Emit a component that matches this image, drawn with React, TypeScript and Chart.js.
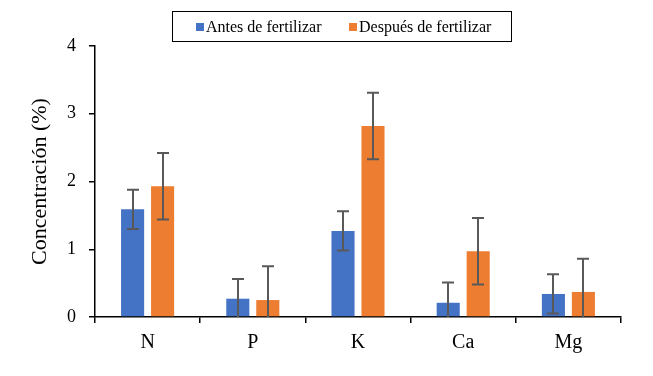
import React, { useEffect, useRef } from "react";
import { Chart, registerables } from "chart.js";

Chart.register(...registerables);

const categories = ["N", "P", "K", "Ca", "Mg"];
const seriesLabels = ["Antes de fertilizar", "Después de fertilizar"];
const antesValues = [1.59, 0.27, 1.27, 0.21, 0.34];
const antesErrors = [0.29, 0.29, 0.29, 0.3, 0.29];
const despuesValues = [1.93, 0.25, 2.82, 0.97, 0.37];
const despuesErrors = [0.49, 0.5, 0.49, 0.49, 0.49];
const yTicks = [0, 1, 2, 3, 4];

const FONT = "'Liberation Serif', 'Times New Roman', serif";

const errorBarPlugin = {
  id: "errorBars",
  afterDatasetsDraw(chart: any) {
    const ctx = chart.ctx;
    const yScale = chart.scales.y;
    const area = chart.chartArea;
    ctx.save();
    ctx.strokeStyle = "#595959";
    ctx.lineWidth = 2;
    chart.data.datasets.forEach((ds: any, di: number) => {
      const meta = chart.getDatasetMeta(di);
      meta.data.forEach((bar: any, i: number) => {
        const v = ds.data[i];
        const e = ds.errors[i];
        const yTop = yScale.getPixelForValue(v + e);
        const yBot = Math.min(yScale.getPixelForValue(v - e), area.bottom);
        const x = Math.round(bar.x);
        const cap = 6;
        ctx.beginPath();
        ctx.moveTo(x, yTop);
        ctx.lineTo(x, yBot);
        ctx.moveTo(x - cap, yTop);
        ctx.lineTo(x + cap, yTop);
        if (v - e > 0) {
          ctx.moveTo(x - cap, yBot);
          ctx.lineTo(x + cap, yBot);
        }
        ctx.stroke();
      });
    });
    ctx.restore();
  },
};

const legendPlugin = {
  id: "boxLegend",
  afterDraw(chart: any) {
    const ctx = chart.ctx;
    ctx.save();
    ctx.strokeStyle = "#000";
    ctx.lineWidth = 1;
    ctx.strokeRect(172.5, 11.5, 339, 30);
    ctx.font = `16px ${FONT}`;
    ctx.textBaseline = "alphabetic";
    ctx.textAlign = "left";
    const starts = [196, 349];
    chart.data.datasets.forEach((ds: any, di: number) => {
      const x = starts[di];
      ctx.fillStyle = ds.backgroundColor;
      ctx.fillRect(x, 23, 8, 8);
      ctx.fillStyle = "#000";
      ctx.fillText(ds.label, x + 10, 32);
    });
    ctx.restore();
  },
};

export default function App() {
  const ref = useRef<HTMLCanvasElement>(null);
  useEffect(() => {
    if (!ref.current) return;
    const chart = new Chart(ref.current, {
      type: "bar",
      data: {
        labels: categories,
        datasets: [
          {
            label: seriesLabels[0],
            data: antesValues,
            errors: antesErrors,
            backgroundColor: "#4472C4",
            categoryPercentage: 0.57,
            barPercentage: 0.77,
          } as any,
          {
            label: seriesLabels[1],
            data: despuesValues,
            errors: despuesErrors,
            backgroundColor: "#ED7D31",
            categoryPercentage: 0.57,
            barPercentage: 0.77,
          } as any,
        ],
      },
      options: {
        responsive: false,
        animation: false,
        layout: { padding: { top: 46, right: 32, left: 0, bottom: 0 } },
        plugins: {
          legend: { display: false },
          tooltip: { enabled: false },
        },
        scales: {
          x: {
            grid: {
              offset: true,
              drawOnChartArea: false,
              drawTicks: true,
              tickLength: 6,
              color: "#000",
              lineWidth: 1.5,
            },
            border: { display: true, color: "#000", width: 1.5 },
            ticks: {
              color: "#000",
              font: { family: FONT, size: 20 },
              padding: 8,
            },
            afterFit(scale: any) {
              scale.height = 59;
            },
          },
          y: {
            min: 0,
            max: 4,
            afterBuildTicks(scale: any) {
              scale.ticks = yTicks.map((v) => ({ value: v }));
            },
            grid: {
              drawOnChartArea: false,
              drawTicks: true,
              tickLength: 6,
              color: "#000",
              lineWidth: 1.5,
            },
            border: { display: true, color: "#000", width: 1.5 },
            ticks: {
              color: "#000",
              font: { family: FONT, size: 18 },
              padding: 13,
            },
            title: {
              display: true,
              text: "Concentración (%)",
              color: "#000",
              font: { family: FONT, size: 22 },
              padding: { top: 27, bottom: 0 },
            },
            afterFit(scale: any) {
              scale.width = 95;
            },
          },
        },
      } as any,
      plugins: [errorBarPlugin, legendPlugin],
    });
    return () => chart.destroy();
  }, []);
  return (
    <div style={{ position: "absolute", left: 0, top: 0, width: 653, height: 376, background: "#fff" }}>
      <canvas ref={ref} width={653} height={376} />
    </div>
  );
}
